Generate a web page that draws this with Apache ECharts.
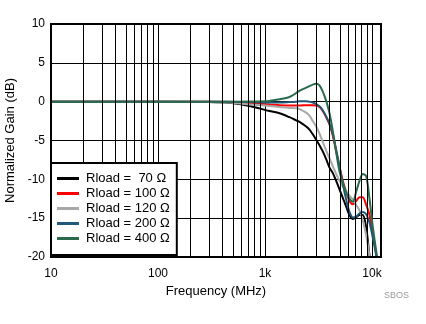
<!DOCTYPE html>
<html>
<head>
<meta charset="utf-8">
<script src="https://cdn.jsdelivr.net/npm/echarts@6/dist/echarts.min.js"></script>
<style>
  html, body { margin: 0; padding: 0; background: #fff; }
  #chart { width: 426px; height: 324px; }
</style>
</head>
<body>
<div id="chart"></div>
<script>
// Frequency points (MHz) shared by all traces
const freq = [10, 100, 300, 466, 716, 1100, 1367, 1694, 1958, 2100, 2427, 2606, 2797, 3010, 3229, 3467, 3730, 4009, 4305, 4627, 4970, 5337, 5737, 6160, 6620, 7110, 7640, 8200, 8830, 9480, 10170, 10940, 11500];

// Normalized gain (dB) for each load resistance
const gain70  = [0, 0, -0.03, -0.15, -0.55, -1.2, -1.5, -2.0, -2.4, -2.6, -3.2, -3.6, -4.2, -4.9, -5.6, -6.4, -7.4, -8.5, -9.2, -10.2, -11.3, -12.4, -13.5, -14.6, -15.1, -14.9, -14.6, -14.6, -16.2, -19.8, -22, -23, -24];
const gain100 = [0, 0, 0, -0.05, -0.2, -0.35, -0.45, -0.5, -0.5, -0.5, -0.45, -0.45, -0.45, -0.5, -0.7, -1.2, -2.0, -2.9, -4.4, -6.4, -8.4, -10.2, -11.6, -12.8, -13.2, -12.8, -12.3, -12.3, -13.3, -14.6, -17.0, -19.6, -22];
const gain120 = [0, 0, -0.03, -0.12, -0.35, -0.55, -0.7, -0.8, -0.85, -0.95, -1.4, -1.8, -2.5, -3.2, -4.1, -5.2, -6.3, -7.3, -8.3, -9.3, -10.2, -10.9, -11.5, -12.1, -12.6, -13.3, -14.0, -15.3, -17.2, -19.8, -22, -23, -24];
const gain200 = [0, 0, 0, 0, -0.05, -0.1, -0.1, -0.05, 0, 0.05, 0.05, 0, -0.1, -0.3, -0.6, -1.1, -1.9, -2.9, -4.2, -6.2, -8.3, -10.6, -12.6, -14.2, -14.9, -14.8, -14.4, -14.2, -14.5, -15.6, -17.5, -19.8, -22];
const gain400 = [0, 0, 0, 0, 0.02, 0.1, 0.3, 0.6, 1.1, 1.4, 1.8, 2.0, 2.2, 2.3, 2.1, 1.3, 0.1, -1.5, -3.8, -6.5, -9.0, -10.4, -11.7, -12.5, -12.9, -11.6, -10.2, -9.3, -9.6, -12.5, -16.1, -19.2, -21.5];

const seriesNames = ['Rload =  70 \u03A9', 'Rload = 100 \u03A9', 'Rload = 120 \u03A9', 'Rload = 200 \u03A9', 'Rload = 400 \u03A9'];
const seriesColors = ['#000000', '#ff0000', '#a8a8a8', '#1f5878', '#2a6a4c'];
const seriesGain = [gain70, gain100, gain120, gain200, gain400];

// Decade labels on the frequency axis
const xTickLabels = { 10: '10', 100: '100', 1000: '1k', 10000: '10k' };

// Minor vertical grid lines (2..9 within each decade)
const minorFreq = [];
[10, 100, 1000].forEach(function (d) {
  for (let k = 2; k <= 9; k++) minorFreq.push(k * d);
});

const FONT = 'Arial, "Liberation Sans", sans-serif';

const series = [{
  name: 'grid-minor',
  type: 'line',
  data: [],
  z: 1,
  silent: true,
  markLine: {
    silent: true,
    symbol: 'none',
    animation: false,
    label: { show: false },
    lineStyle: { color: '#000', width: 1, type: 'solid' },
    data: minorFreq.map(function (f) { return { xAxis: f }; })
  }
}];

seriesNames.forEach(function (name, i) {
  series.push({
    name: name,
    type: 'line',
    showSymbol: false,
    symbol: 'none',
    smooth: 0.3,
    clip: true,
    z: 3,
    lineStyle: { color: seriesColors[i], width: 2 },
    itemStyle: { color: seriesColors[i] },
    data: freq.map(function (f, j) { return [f, seriesGain[i][j]]; })
  });
});

const chart = echarts.init(document.getElementById('chart'), null, { renderer: 'canvas' });
chart.setOption({
  animation: false,
  backgroundColor: '#fff',
  grid: {
    left: 51, right: 45, top: 24, bottom: 67,
    containLabel: false,
    outerBoundsMode: 'none',
    show: true, borderColor: '#000', borderWidth: 2, backgroundColor: 'transparent',
    z: 4
  },
  xAxis: {
    type: 'log',
    logBase: 10,
    min: 10,
    max: 12140,
    name: 'Frequency (MHz)',
    nameLocation: 'middle',
    nameGap: 26,
    nameTextStyle: { fontFamily: FONT, fontSize: 13, color: '#000' },
    axisLine: { show: false },
    axisTick: { show: false },
    axisLabel: {
      fontFamily: FONT, fontSize: 12, color: '#000', margin: 11,
      showMaxLabel: false,
      formatter: function (v) {
        const r = Math.round(v);
        return xTickLabels[r] !== undefined ? xTickLabels[r] : '';
      }
    },
    splitLine: { show: true, lineStyle: { color: '#000', width: 1 } }
  },
  yAxis: {
    type: 'value',
    min: -20,
    max: 10,
    interval: 5,
    name: 'Normalized Gain (dB)',
    nameLocation: 'middle',
    nameGap: 33,
    nameTextStyle: { fontFamily: FONT, fontSize: 13, color: '#000' },
    axisLine: { show: false },
    axisTick: { show: false },
    axisLabel: { fontFamily: FONT, fontSize: 12, color: '#000', margin: 6 },
    splitLine: { show: true, lineStyle: { color: '#000', width: 1 } }
  },
  legend: {
    data: seriesNames,
    orient: 'vertical',
    left: 51,
    top: 163,
    z: 10,
    backgroundColor: '#fff',
    borderColor: '#000',
    borderWidth: 2,
    borderRadius: 0,
    padding: [9, 7, 10, 6],
    itemGap: 2,
    itemWidth: 22,
    itemHeight: 3,
    icon: 'rect',
    selectedMode: false,
    textStyle: { fontFamily: FONT, fontSize: 13, color: '#000', padding: [0, 0, 0, 2] }
  },
  graphic: [{
    type: 'text',
    left: 384,
    top: 291,
    style: { text: 'SBOS', fontFamily: FONT, fontSize: 9, fill: '#9a9a9a' }
  }],
  series: series
});
</script>
</body>
</html>
